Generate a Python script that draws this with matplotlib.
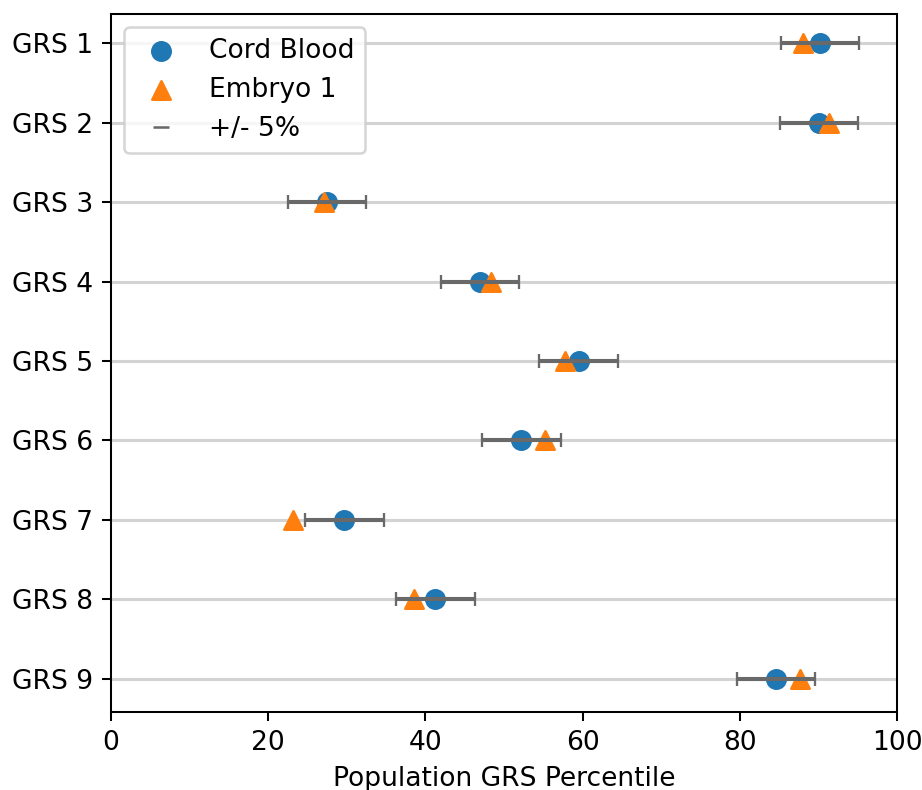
import matplotlib
matplotlib.use("Agg")
import matplotlib.pyplot as plt
from matplotlib.lines import Line2D
import numpy as np

labels = ["GRS 1", "GRS 2", "GRS 3", "GRS 4", "GRS 5", "GRS 6", "GRS 7", "GRS 8", "GRS 9"]
cord_blood = [90.2, 90.1, 27.5, 46.95, 59.5, 52.2, 29.7, 41.25, 84.6]
embryo_1 = [88.1, 91.4, 27.1, 48.3, 57.8, 55.2, 23.2, 38.5, 87.7]
margin = 5

DPI = 184
plt.rcParams["font.size"] = 10.4
fig = plt.figure(figsize=(922 / DPI, 790 / DPI), dpi=DPI)
ax = fig.add_axes([111 / 922, 1 - 712 / 790, (897 - 111) / 922, (712 - 14) / 790])

y = np.arange(len(labels))
for yi in y:
    ax.axhline(yi, color="lightgray", lw=1.2, zorder=1)

ax.scatter(cord_blood, y, s=52, color="#1f77b4", marker="o", zorder=2, label="Cord Blood")
ax.scatter(embryo_1, y, s=52, color="#ff7f0e", marker="^", zorder=3, label="Embryo 1")
ax.errorbar(cord_blood, y, xerr=margin, fmt="none", ecolor="dimgray", elinewidth=1.6,
            capsize=2.6, capthick=0.9, zorder=4)

ax.set_yticks(y)
ax.set_yticklabels(labels)
ax.set_ylim(len(labels) - 1 + 0.42, -0.37)
ax.set_xlim(0, 100)
ax.set_xlabel("Population GRS Percentile")

handles, lbls = ax.get_legend_handles_labels()
handles.append(Line2D([], [], color="dimgray", marker="_", linestyle="none", markersize=6))
lbls.append("+/- 5%")
ax.legend(handles, lbls, loc="upper left")

fig.savefig("out.png", dpi=DPI)
